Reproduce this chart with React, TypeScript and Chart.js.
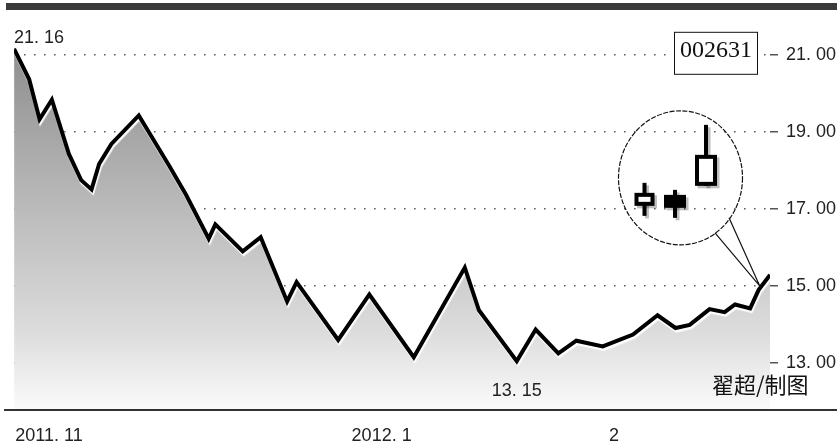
import { useEffect, useRef } from 'react';
import { Chart, registerables } from 'chart.js';

Chart.register(...registerables);

// ---- data (trading-day index, closing price) ----
const dayIdx = [0, 1.6, 2.7, 4.0, 5.8, 7.1, 8.2, 9.0, 10.3, 13.2, 16.4, 18.2, 20.6, 21.3, 24.2, 26.1, 28.9, 29.9, 34.3, 37.6, 42.3, 47.7, 49.2, 53.2, 55.2, 57.6, 59.5, 62.3, 65.5, 68.1, 70.0, 71.5, 73.6, 75.2, 76.3, 77.9, 78.8, 80];
const prices = [21.16, 20.37, 19.33, 19.84, 18.43, 17.75, 17.51, 18.17, 18.69, 19.43, 18.13, 17.37, 16.23, 16.6, 15.9, 16.27, 14.6, 15.1, 13.6, 14.78, 13.15, 15.48, 14.37, 13.05, 13.87, 13.25, 13.58, 13.43, 13.74, 14.24, 13.91, 13.99, 14.4, 14.32, 14.52, 14.42, 14.9, 15.29];

const xTickPos = [3.7, 38.9, 63.5];
const xTickLabels = ['2011. 11', '2012. 1', '2'];
const yTickVals = [13, 15, 17, 19, 21];
const yTickLabels = ['13. 00', '15. 00', '17. 00', '19. 00', '21. 00'];

const maxLabel = '21. 16';
const minLabel = '13. 15';
const stockCode = '002631';
const credit = '翟超/制图';

// inset candlesticks (open, close, high, low in inset units)
const candleOpen = [22, 33, 42];
const candleClose = [35, 20, 73];
const candleHigh = [45, 38, 103];
const candleLow = [12, 10, 42];
const candleSlot = [-36, -5.5, 25.5];

const decorPlugin = {
  id: 'decor',
  beforeDatasetDraw(chart: any) {
    const ctx = chart.ctx;
    ctx.save();
    ctx.shadowColor = 'rgba(255,255,255,0.95)';
    ctx.shadowOffsetX = 1;
    ctx.shadowOffsetY = 2.5;
    ctx.shadowBlur = 1;
  },
  afterDatasetDraw(chart: any) {
    chart.ctx.restore();
  },
  afterDraw(chart: any) {
    const ctx = chart.ctx as CanvasRenderingContext2D;
    const a = chart.chartArea;
    const pts = chart.getDatasetMeta(0).data;
    const n = pts.length;
    ctx.save();
    // top bar
    ctx.fillStyle = '#3a3a3a';
    ctx.fillRect(6, 3, chart.width - 6, 7);
    // bottom axis line
    ctx.fillStyle = '#333';
    ctx.fillRect(4, a.bottom - 1, chart.width - 4, 2);

    ctx.fillStyle = '#222';
    ctx.font = '18px "Liberation Sans", Arial, sans-serif';
    // max label
    ctx.textAlign = 'left';
    ctx.textBaseline = 'alphabetic';
    ctx.fillText(maxLabel, pts[0].x, pts[0].y - 6);
    // min label
    let mi = 0;
    prices.forEach((p, i) => { if (p < prices[mi]) mi = i; });
    ctx.textAlign = 'center';
    ctx.fillText(minLabel, pts[mi].x, pts[mi].y + 35);

    // code box
    const bx = a.right - 96, by = a.top + 13, bw = 83, bh = 42;
    ctx.fillStyle = '#fff';
    ctx.fillRect(bx, by, bw, bh);
    ctx.strokeStyle = '#111';
    ctx.lineWidth = 1;
    ctx.strokeRect(bx + 0.5, by + 0.5, bw, bh);
    ctx.fillStyle = '#111';
    ctx.font = '24px "Liberation Serif", "Times New Roman", serif';
    ctx.textAlign = 'center';
    ctx.fillText(stockCode, bx + bw / 2 + 0.5, by + 25);

    // credit
    ctx.font = '22px "Noto Sans CJK SC", sans-serif';
    ctx.textAlign = 'left';
    ctx.textBaseline = 'middle';
    ctx.fillStyle = '#111';
    ctx.fillText(credit, a.right - 58, a.bottom - 25);

    // callout
    const anchor = pts[n - 1];
    const tip = pts[n - 2];
    const cx = anchor.x - 89.5, cy = anchor.y - 97;
    const tx = tip.x + 1, ty = tip.y - 4;
    ctx.strokeStyle = '#111';
    ctx.lineWidth = 1.2;
    ctx.setLineDash([5, 1.5]);
    ctx.beginPath();
    ctx.ellipse(cx, cy, 62, 67, 0, 0, Math.PI * 2);
    ctx.stroke();
    ctx.setLineDash([]);
    ctx.beginPath();
    ctx.moveTo(cx + 34.5, cy + 55);
    ctx.lineTo(tx, ty);
    ctx.lineTo(cx + 48.5, cy + 40);
    ctx.stroke();

    // candles
    const vy = (v: number) => cy + 50 - v;
    const widths = [20, 22, 22];
    for (let pass = 0; pass < 2; pass++) {
      for (let i = 0; i < candleOpen.length; i++) {
        const off = pass === 0 ? 2.5 : 0;
        const col = pass === 0 ? 'rgba(0,0,0,0.25)' : '#000';
        const x = cx + candleSlot[i] + off;
        const w = widths[i];
        const top = vy(Math.max(candleOpen[i], candleClose[i])) + off;
        const bot = vy(Math.min(candleOpen[i], candleClose[i])) + off;
        const hi = vy(candleHigh[i]) + off;
        const lo = vy(candleLow[i]) + off;
        ctx.fillStyle = col;
        ctx.fillRect(x - 2, hi, 4, lo - hi);
        ctx.fillRect(x - w / 2, top, w, bot - top);
        if (pass === 1 && candleClose[i] > candleOpen[i]) {
          ctx.fillStyle = '#fff';
          ctx.fillRect(x - w / 2 + 4, top + 4, w - 8, bot - top - 8);
        }
      }
    }
    ctx.restore();
  },
};

export default function App() {
  const ref = useRef<HTMLCanvasElement>(null);
  useEffect(() => {
    const canvas = ref.current!;
    Chart.defaults.font.family = '"Liberation Sans", Arial, sans-serif';
    const chart = new Chart(canvas, {
      type: 'line',
      data: {
        datasets: [
          {
            data: dayIdx.map((x, i) => ({ x, y: prices[i] })),
            borderColor: '#000',
            borderWidth: 4,
            pointRadius: 0,
            tension: 0,
            fill: 'start',
            backgroundColor: (c: any) => {
              const ch = c.chart;
              const a = ch.chartArea;
              if (!a) return 'rgba(0,0,0,0)';
              const g = ch.ctx.createLinearGradient(0, a.top, 0, a.bottom);
              g.addColorStop(0, '#868686');
              g.addColorStop(0.5, '#bcbcbc');
              g.addColorStop(0.8, '#dcdcdc');
              g.addColorStop(1, '#fbfbfb');
              return g;
            },
          },
        ],
      },
      options: {
        animation: false,
        responsive: false,
        layout: { padding: { left: 7, top: 10, right: 0, bottom: 0 } },
        plugins: {
          legend: { display: false },
          tooltip: { enabled: false },
          filler: { drawTime: 'beforeDatasetsDraw' } as any,
        },
        scales: {
          x: {
            type: 'linear',
            min: 0,
            max: 80,
            grid: { display: false, drawTicks: false },
            border: { display: false },
            afterBuildTicks: (s: any) => { s.ticks = xTickPos.map((v) => ({ value: v })); },
            afterFit: (s: any) => { s.height = 38; },
            ticks: {
              autoSkip: false,
              maxRotation: 0,
              padding: 15,
              color: '#222',
              font: { size: 18 },
              callback: (_v: any, i: number) => xTickLabels[i],
            },
          },
          y: {
            position: 'right',
            min: 11.78,
            max: 21.94,
            grid: { color: '#555', lineWidth: 1.5, drawTicks: true, tickLength: 8 },
            border: { display: false, dash: [1.5, 8.5] },
            afterBuildTicks: (s: any) => { s.ticks = yTickVals.map((v) => ({ value: v })); },
            afterFit: (s: any) => { s.width = 67; },
            ticks: {
              padding: 8,
              color: '#222',
              font: { size: 18 },
              callback: (_v: any, i: number) => yTickLabels[i],
            },
          },
        },
      },
      plugins: [decorPlugin],
    });
    return () => chart.destroy();
  }, []);
  return (
    <div style={{ position: 'fixed', left: 0, top: 0, width: 837, height: 448, background: '#fff' }}>
      <canvas ref={ref} width={837} height={448} style={{ width: 837, height: 448, display: 'block' }} />
    </div>
  );
}
